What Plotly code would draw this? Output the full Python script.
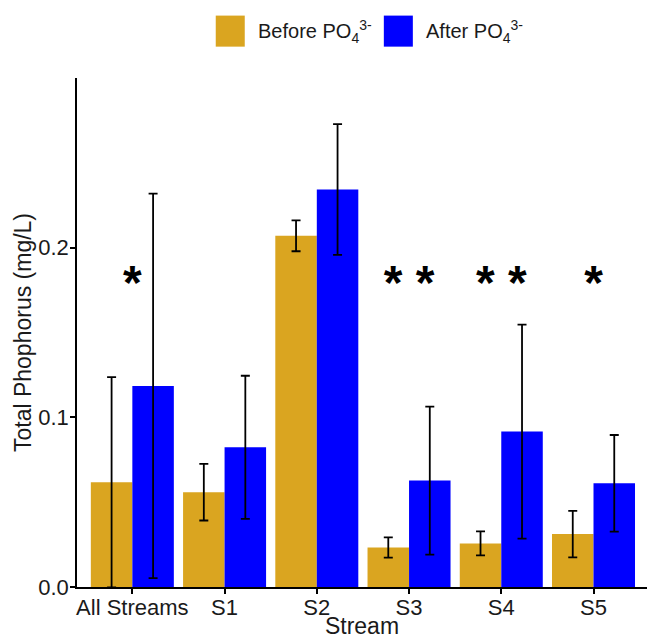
import plotly.graph_objects as go

streams = ["All Streams", "S1", "S2", "S3", "S4", "S5"]
before_mean = [0.0617, 0.0559, 0.2070, 0.0233, 0.0257, 0.0312]
before_err = [0.0620, 0.0167, 0.0091, 0.0060, 0.0071, 0.0137]
after_mean = [0.1185, 0.0823, 0.2343, 0.0627, 0.0916, 0.0611]
after_err = [0.1133, 0.0422, 0.0385, 0.0436, 0.0631, 0.0285]
sig_labels = ["*", "", "", "* *", "* *", "*"]
sig_y = [0.177] * 6

GOLD = "#DAA520"
BLUE = "#0000FF"
FONT = "Liberation Sans, Arial, sans-serif"

fig = go.Figure()
fig.add_trace(go.Bar(
    x=streams, y=before_mean, name="Before PO<sub>4</sub><sup>3-</sup>",
    marker=dict(color=GOLD, line=dict(width=0)),
    error_y=dict(type="data", array=before_err, color="black", thickness=1.8, width=4.5),
    showlegend=False,
))
fig.add_trace(go.Bar(
    x=streams, y=after_mean, name="After PO<sub>4</sub><sup>3-</sup>",
    marker=dict(color=BLUE, line=dict(width=0)),
    error_y=dict(type="data", array=after_err, color="black", thickness=1.8, width=4.5),
    showlegend=False,
))
fig.add_trace(go.Scatter(
    x=streams, y=sig_y, mode="text", text=sig_labels,
    textposition="middle center",
    textfont=dict(size=48, color="black", family="Liberation Sans, Arial", weight="bold"),
    showlegend=False, hoverinfo="skip", cliponaxis=False,
))

# manual legend (large square keys like the reference)
legend_items = [("Before PO<sub>4</sub><sup>3-</sup>", GOLD, 0.2434), ("After PO<sub>4</sub><sup>3-</sup>", BLUE, 0.5383)]
for label, col, x0 in legend_items:
    fig.add_shape(type="rect", xref="paper", yref="paper",
                  x0=x0, x1=x0 + 0.0509, y0=1.0616, y1=1.1226,
                  fillcolor=col, line=dict(width=0))
    fig.add_annotation(xref="paper", yref="paper", x=x0 + 0.0700, y=1.092,
                       xanchor="left", yanchor="middle", showarrow=False,
                       text=label, font=dict(size=20, color="#1a1a1a", family=FONT))

fig.update_layout(
    width=647, height=639,
    margin=dict(l=77, r=0, t=78, b=52),
    paper_bgcolor="white", plot_bgcolor="white",
    barmode="group", bargap=0.1, bargroupgap=0,
    font=dict(family=FONT, size=22, color="#1a1a1a"),
)
fig.update_xaxes(
    range=[-0.6, 5.58], showline=True, linecolor="black", linewidth=1.5,
    ticks="outside", ticklen=5, tickcolor="black", tickwidth=1.5,
    ticklabelstandoff=-5,
    showgrid=False, zeroline=False, automargin=False,
    title=dict(text="Stream", font=dict(size=23), standoff=5),
    tickfont=dict(size=22, color="#1a1a1a"),
)
fig.update_yaxes(
    range=[0, 0.30], showline=True, linecolor="black", linewidth=1.5,
    ticks="outside", ticklen=5, tickcolor="black", tickwidth=1.5,
    ticklabelstandoff=-3,
    tickvals=[0, 0.1, 0.2], tickformat=".1f",
    showgrid=False, zeroline=False, automargin=False,
    title=dict(text="Total Phophorus (mg/L)", font=dict(size=23), standoff=0),
    tickfont=dict(size=22, color="#1a1a1a"),
)

fig.write_html("out.html", config={"displayModeBar": False},
               post_script="document.body.style.margin='0';")
